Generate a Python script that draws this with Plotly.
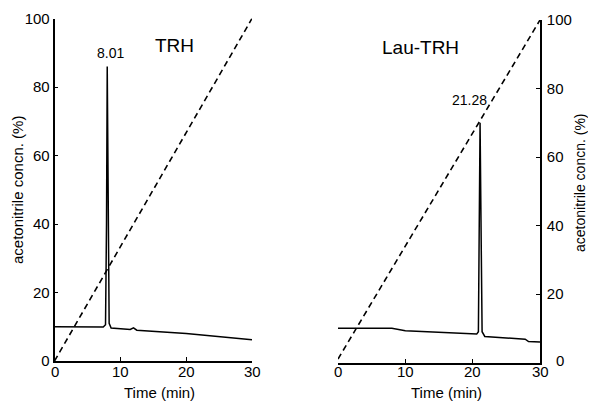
import plotly.graph_objects as go

# ---- data ----
trh_time = [0, 7.4, 7.75, 7.9, 8.01, 8.12, 8.3, 8.6, 11.5, 12.0, 12.5, 20.0, 30.0]
trh_signal = [10.0, 9.9, 10.6, 40, 86, 40, 11.0, 9.6, 9.2, 9.7, 9.0, 8.0, 6.2]
lau_time = [0, 8.0, 10.0, 20.6, 20.85, 21.0, 21.1, 21.22, 21.4, 21.8, 27.8, 28.3, 30.0]
lau_signal = [10.0, 10.0, 9.3, 8.3, 9.0, 50, 70, 45, 9.0, 7.6, 6.8, 6.1, 6.0]
grad_time = [0, 30]
trh_grad = [0, 100]
lau_grad = [1, 100]
peak_labels = ["8.01", "21.28"]
panel_titles = ["TRH", "Lau-TRH"]
x_title = "Time (min)"
y_title = "acetonitrile concn. (%)"
x_ticks = [0, 10, 20, 30]
y_ticks = [0, 20, 40, 60, 80, 100]

FONT = "Liberation Sans, Arial, sans-serif"
W, H, OFF = 588, 394, 8  # page body has an 8px margin


def px(x):
    return (x - OFF) / W


def py(y):
    return 1 - (y - OFF) / H


line = dict(color="black", width=1.5)
dash = dict(color="black", width=1.6, dash="6px,4px")

fig = go.Figure()
fig.add_trace(go.Scatter(x=trh_time, y=trh_signal, mode="lines", line=line, xaxis="x", yaxis="y"))
fig.add_trace(go.Scatter(x=grad_time, y=trh_grad, mode="lines", line=dash, xaxis="x", yaxis="y"))
fig.add_trace(go.Scatter(x=lau_time, y=lau_signal, mode="lines", line=line, xaxis="x2", yaxis="y2"))
fig.add_trace(go.Scatter(x=grad_time, y=lau_grad, mode="lines", line=dash, xaxis="x2", yaxis="y2"))

axis_common = dict(showline=True, linecolor="black", linewidth=1.6, showgrid=False, zeroline=False,
                   tickfont=dict(family=FONT, size=15, color="black"), ticklen=4, tickwidth=1.3,
                   tickcolor="black", automargin=False, ticks="inside")

# right axis: the "0" label sits apart from the others in the reference
y2_text = [""] + [str(v) for v in y_ticks[1:]]

fig.update_layout(
    width=W, height=H,
    margin=dict(l=0, r=0, t=0, b=0),
    paper_bgcolor="white", plot_bgcolor="white",
    showlegend=False,
    font=dict(family=FONT, color="black"),
    xaxis=dict(domain=[px(54.5), px(252)], range=[0, 30], tickvals=x_ticks, showticklabels=False,
               anchor="y", **axis_common),
    yaxis=dict(domain=[py(361), py(18.5)], range=[0, 100], tickvals=y_ticks,
               anchor="x", ticklabelstandoff=0, **axis_common),
    xaxis2=dict(domain=[px(338), px(540)], range=[0, 30], tickvals=x_ticks, showticklabels=False,
                anchor="y2", **axis_common),
    yaxis2=dict(domain=[py(362.5), py(20)], range=[0, 100], tickvals=y_ticks, ticktext=y2_text,
                anchor="x2", side="right", ticklabelstandoff=2, **axis_common),
)

# x tick labels placed just under the axes
for xr in ["x", "x2"]:
    for t in x_ticks:
        fig.add_annotation(x=t, y=py(371), xref=xr, yref="paper", text=str(t), showarrow=False,
                           xanchor="center", yanchor="middle", font=dict(size=15, family=FONT))
fig.add_annotation(x=px(560), y=y_ticks[0], xref="paper", yref="y2", yshift=2, text=str(y_ticks[0]),
                   showarrow=False, xanchor="center", yanchor="middle", font=dict(size=15, family=FONT))

# panel titles and peak labels
fig.add_annotation(x=18.2, y=92, xref="x", yref="y", text=panel_titles[0], showarrow=False,
                   font=dict(size=19, family=FONT))
fig.add_annotation(x=12.2, y=92, xref="x2", yref="y2", text=panel_titles[1], showarrow=False,
                   font=dict(size=19, family=FONT))
fig.add_annotation(x=8.5, y=89.8, xref="x", yref="y", text=peak_labels[0], showarrow=False,
                   yanchor="middle", font=dict(size=14, family=FONT))
fig.add_annotation(x=19.6, y=76.6, xref="x2", yref="y2", text=peak_labels[1], showarrow=False,
                   yanchor="middle", font=dict(size=14, family=FONT))

# axis titles
fig.add_annotation(x=px(159), y=py(392), xref="paper", yref="paper", text=x_title,
                   xanchor="center", yanchor="middle", showarrow=False, font=dict(size=15, family=FONT))
fig.add_annotation(x=px(446), y=py(392), xref="paper", yref="paper", text=x_title,
                   xanchor="center", yanchor="middle", showarrow=False, font=dict(size=15, family=FONT))
fig.add_annotation(x=px(18), y=py(190), xref="paper", yref="paper", text=y_title,
                   xanchor="center", yanchor="middle",
                   textangle=-90, showarrow=False, font=dict(size=15, family=FONT))
fig.add_annotation(x=px(580), y=py(183), xref="paper", yref="paper", text=y_title,
                   xanchor="center", yanchor="middle",
                   textangle=-90, showarrow=False, font=dict(size=14, family=FONT))

fig.write_html("out.html")
